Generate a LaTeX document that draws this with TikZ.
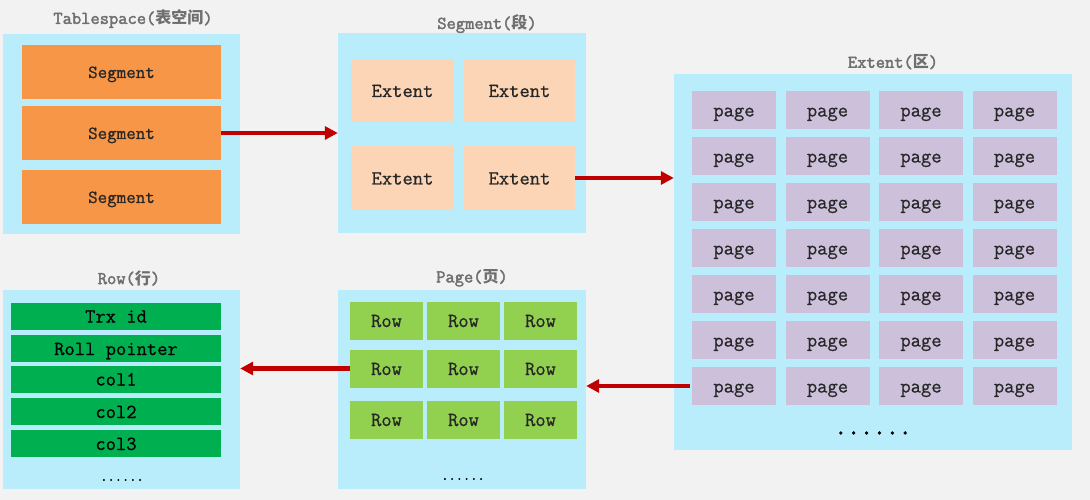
\documentclass[tikz,border=0pt]{standalone}
\usepackage{fontspec}
\usepackage{tikz}
\usetikzlibrary{arrows.meta}
\newfontfamily\cjk{Noto Sans CJK SC}
\newfontfamily\cellfont[FakeBold=0.8]{Latin Modern Mono}
\newfontfamily\titlefont[FakeBold=2.2]{Latin Modern Mono}
\definecolor{bg}{HTML}{F2F2F2}
\definecolor{boxblue}{HTML}{B9EDFC}
\definecolor{segorange}{HTML}{F79646}
\definecolor{extpeach}{HTML}{FBD5B5}
\definecolor{pagelilac}{HTML}{CCC0DA}
\definecolor{rowgreen}{HTML}{92D050}
\definecolor{fieldgreen}{HTML}{00B050}
\definecolor{linkred}{HTML}{C00000}
\definecolor{titlegray}{HTML}{6F6F6F}
\definecolor{celltext}{HTML}{262626}
\tikzset{
  box/.style={fill=boxblue, inner sep=0pt},
  cell/.style={inner sep=0pt, text height=13pt, text depth=0pt,
               font=\cellfont\fontsize{20}{22}\selectfont, text=celltext},
  title/.style={inner sep=0pt, font=\titlefont\fontsize{18}{20}\selectfont, text=titlegray},
  dots/.style={inner sep=0pt, font=\titlefont\fontsize{14}{14}\selectfont, text=black},
  link/.style={draw=linkred, line width=4.5pt, -{Triangle[length=13pt,width=13pt]}}
}
\begin{document}
\begin{tikzpicture}[x=1pt,y=-1pt]
    \fill [bg] (0,0) rectangle (1090,500);
    \useasboundingbox (0,0) rectangle (1090,500);
    % containers
    \node [box, minimum width=237pt, minimum height=200pt] (tablespace) at (121.5,134) {};
    \node [box, minimum width=248pt, minimum height=200pt] (segbox) at (462,133) {};
    \node [box, minimum width=398pt, minimum height=376pt] (extbox) at (873,262) {};
    \node [box, minimum width=248pt, minimum height=199pt] (pagebox) at (462,389.5) {};
    \node [box, minimum width=237pt, minimum height=199pt] (rowbox) at (121.5,389.5) {};
    % titles
    \node [title] (tstitle) at (133,19) {Tablespace({\cjk\bfseries\fontsize{16}{18}\selectfont 表空间})};
    \node [title] (segtitle) at (487,24) {Segment({\cjk\bfseries\fontsize{16}{18}\selectfont 段})};
    \node [title] (exttitle) at (893,62) {Extent({\cjk\bfseries\fontsize{16}{18}\selectfont 区})};
    \node [title] (pagetitle) at (472,278) {Page({\cjk\bfseries\fontsize{16}{18}\selectfont 页})};
    \node [title] (rowtitle) at (129,278) {Row({\cjk\bfseries\fontsize{16}{18}\selectfont 行})};
    % tablespace
    \foreach \y [count=\i] in {72,133,197}
        \node [cell, fill=segorange, minimum width=199pt, minimum height=54pt,
               text height=12pt, font=\cellfont\fontsize{18.5}{20}\selectfont] (seg\i) at (121.5,\y) {Segment};
    % segment
    \node [cell, fill=extpeach, minimum width=103pt, minimum height=63pt] (ext1) at (402.5,90.5) {Extent};
    \node [cell, fill=extpeach, minimum width=111pt, minimum height=63pt] (ext2) at (519.5,90.5) {Extent};
    \node [cell, fill=extpeach, minimum width=103pt, minimum height=63pt] (ext3) at (402.5,178) {Extent};
    \node [cell, fill=extpeach, minimum width=111pt, minimum height=63pt] (ext4) at (519.5,178) {Extent};
    % extent
    \foreach \r in {1,...,7}
        \foreach \c in {1,...,4}
            \node [cell, fill=pagelilac, minimum width=84pt, minimum height=38pt]
                (pg\r\c) at ({734+93.5*(\c-1)},{110+46*(\r-1)}) {page};
    \node [dots, font=\titlefont\fontsize{25}{25}\selectfont] (extdots) at (873,433) {......};
    % page
    \foreach \y [count=\r] in {320.5,368.5,419.5}
        \foreach \x [count=\c] in {386.5,463.5,540.5}
            \node [cell, fill=rowgreen, minimum width=73pt, minimum height=38pt] (rw\r\c) at (\x,\y) {Row};
    \node [dots] (pagedots) at (463,479) {......};
    % row
    \foreach \y/\t [count=\i] in {316/Trx id,348.5/Roll pointer,379/col1,411.5/col2,443.5/col3}
        \node [cell, text=black, fill=fieldgreen, minimum width=210pt, minimum height=27pt] (fd\i) at (116,\y) {\t};
    \node [dots] (rowdots) at (122,480) {......};
    % links
    \draw [link] (seg2.east) -- (seg2.east -| segbox.west);
    \draw [link] (ext4.east) -- (ext4.east -| extbox.west);
    \draw [link] ([xshift=-2pt]pg71.west) -- (pg71.west -| pagebox.east);
    \draw [link] (rw21.west) -- (rw21.west -| rowbox.east);
\end{tikzpicture}
\end{document}
